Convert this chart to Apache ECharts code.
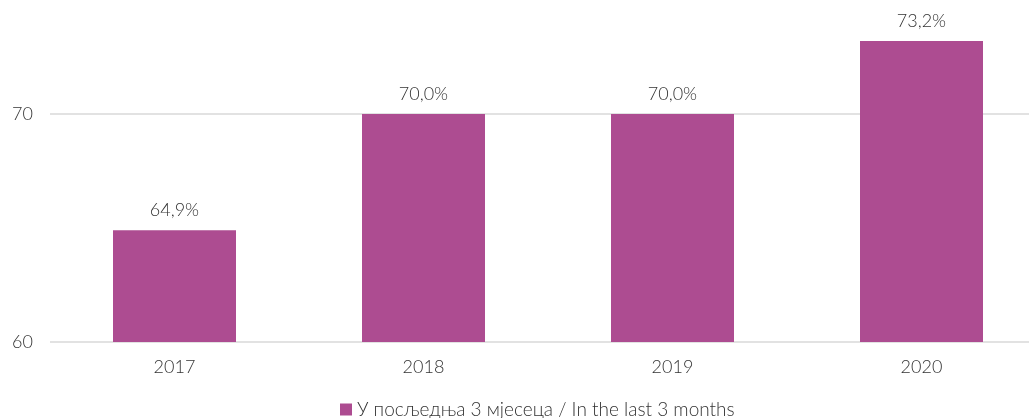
<!DOCTYPE html>
<html>
<head>
<meta charset="utf-8">
<script src="https://cdn.jsdelivr.net/npm/echarts@6/dist/echarts.min.js"></script>
<style>
  html, body { margin: 0; padding: 0; background: #fff; overflow: hidden; }
  /* the chart box is a little larger than the window: the plot runs past the right and top edges */
  #chart { position: absolute; left: 0; top: -30px; width: 1046px; height: 448px; }
</style>
</head>
<body>
<div id="chart"></div>
<script>
const years = ['2017', '2018', '2019', '2020'];
const last3Months = [64.9, 70.0, 70.0, 73.2];
const seriesName = 'У посљедња 3 мјесеца / In the last 3 months';

const chart = echarts.init(document.getElementById('chart'));
const font = 'Lato, "Open Sans", sans-serif';
const textColor = '#333333';

chart.setOption({
  animation: false,
  textStyle: { fontFamily: font },
  grid: { left: 50, right: 0, top: 7, bottom: 76, containLabel: false },
  legend: {
    data: [seriesName],
    left: 335,
    top: 425,
    icon: 'rect',
    itemWidth: 12,
    itemHeight: 12,
    itemGap: 3,
    textStyle: { fontSize: 19, fontWeight: 300, color: textColor, fontFamily: font }
  },
  xAxis: {
    type: 'category',
    data: years,
    axisLine: { show: false },
    axisTick: { show: false },
    axisLabel: { fontSize: 18, fontWeight: 300, color: textColor, margin: 16 }
  },
  yAxis: {
    type: 'value',
    min: 60,
    max: 76,
    interval: 10,
    axisLine: { show: false },
    axisTick: { show: false },
    axisLabel: { fontSize: 18, fontWeight: 300, color: textColor, margin: 17, showMaxLabel: false },
    splitLine: { lineStyle: { color: '#d9d9d9', width: 1.5 } }
  },
  series: [{
    name: seriesName,
    type: 'bar',
    data: last3Months,
    barWidth: 123,
    itemStyle: { color: '#AD4C91' },
    label: {
      show: true,
      position: 'top',
      distance: 11,
      fontSize: 18,
      fontWeight: 300,
      color: textColor,
      formatter: p => p.value.toFixed(1).replace('.', ',') + '%'
    }
  }]
});
</script>
</body>
</html>
